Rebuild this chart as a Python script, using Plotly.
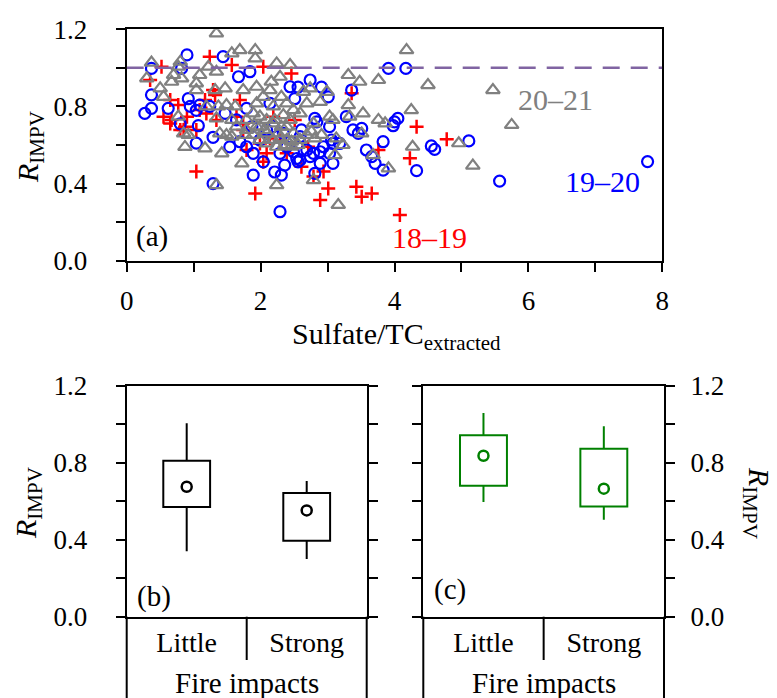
import plotly.graph_objects as go

# ---------------- Panel (a) data ----------------
x_1819 = [0.35, 0.52, 0.55, 0.65, 0.65, 0.67, 0.77, 0.80, 0.85, 1.04, 1.09, 1.17, 1.24, 1.29, 1.32, 1.57, 1.64,
          1.69, 1.74, 1.79, 1.92, 2.04, 2.04, 2.19, 2.29, 2.46, 2.51, 2.61, 2.79, 2.89, 2.94, 3.01, 2.71, 3.36,
          3.43, 3.51, 3.66, 3.76, 4.08, 4.23, 4.33, 4.78, 0.87, 0.90, 1.04, 1.19, 1.34, 1.74, 1.99, 2.14, 2.39, 2.09]
y_1819 = [0.937, 1.006, 0.747, 0.833, 0.712, 0.73, 0.807, 0.678, 0.678, 0.462, 0.781, 0.833, 1.058, 0.885, 0.859,
          1.015, 0.747, 0.833, 0.712, 0.574, 0.349, 1.006, 0.513, 0.747, 0.626, 0.971, 0.73, 0.487, 0.436, 0.315,
          0.462, 0.375, 0.591, 0.868, 0.384, 0.332, 0.349, 0.574, 0.237, 0.531, 0.695, 0.63, 0.695, 0.747, 0.678,
          0.764, 0.73, 0.678, 0.608, 0.634, 0.557, 0.557]

x_1920 = [0.27, 0.37, 0.37, 0.37, 0.62, 0.80, 0.82, 0.90, 0.92, 0.95,
          1.04, 1.07, 1.04, 1.29, 1.29, 1.44, 1.47, 1.54, 1.67, 1.69,
          1.79, 1.84, 1.87, 1.89, 2.04, 2.21, 2.31, 2.36, 2.29, 2.29,
          2.56, 2.51, 2.61, 2.54, 2.56, 2.74, 2.81, 2.84, 2.74, 2.89,
          2.81, 2.91, 3.03, 3.06, 3.03, 3.08, 3.01, 3.28, 3.36, 3.38,
          3.51, 3.46, 3.58, 3.66, 3.71, 3.83, 3.83, 3.91, 3.98, 4.05,
          4.00, 4.17, 4.33, 4.55, 4.60, 5.11, 5.57, 7.78,
          1.09, 1.24, 1.64, 1.79, 1.89, 1.99, 2.09, 2.19, 2.34, 2.39,
          2.49, 2.59, 2.69, 2.79, 2.59, 2.89, 2.94, 2.44, 2.14, 3.08, 3.18]
y_1920 = [0.764, 0.79, 0.997, 0.86, 0.79, 0.71, 0.997, 1.067, 0.84, 0.80,
          0.78, 0.70, 0.61, 0.64, 0.40, 1.058, 0.764, 0.59, 0.954, 0.617,
          0.79, 0.98, 0.695, 0.444, 0.513, 0.46, 0.444, 0.496, 0.254, 0.557,
          0.90, 0.84, 0.678, 0.53, 0.513, 0.937, 0.738, 0.72, 0.54, 0.505,
          0.453, 0.90, 0.695, 0.626, 0.557, 0.505, 0.85, 0.747, 0.885, 0.678,
          0.686, 0.66, 0.574, 0.54, 0.505, 0.47, 0.617, 0.997, 0.70, 0.738,
          0.72, 0.997, 0.467, 0.595, 0.577, 0.621, 0.413, 0.514,
          0.807, 0.80, 0.73, 0.591, 0.557, 0.626, 0.678, 0.695, 0.66, 0.591,
          0.565, 0.643, 0.574, 0.557, 0.522, 0.565, 0.591, 0.902, 0.816, 0.608, 0.608]

x_2021 = [0.37, 0.30, 0.50, 0.55, 0.67, 0.70, 0.77, 0.80, 0.82, 0.77,
          0.85, 0.87, 0.92, 1.04, 1.09, 1.04, 1.19, 1.17, 1.22, 1.34,
          1.34, 1.32, 1.37, 1.34, 1.39, 1.42, 1.34, 1.47, 1.49, 1.57,
          1.57, 1.69, 1.62, 1.74, 1.72, 1.79, 1.77, 1.92, 1.92, 1.94,
          1.94, 1.99, 2.04, 2.06, 2.16, 2.14, 2.19, 2.24, 2.21, 2.26,
          2.24, 2.29, 2.31, 2.34, 2.39, 2.44, 2.46, 2.49, 2.64, 2.69,
          2.74, 2.76, 2.79, 2.81, 2.89, 2.91, 2.99, 3.03, 3.08, 3.13,
          3.11, 3.16, 3.23, 3.31, 3.31, 3.33, 3.48, 3.51, 3.53, 3.68,
          3.76, 3.76, 3.86, 3.91, 4.18, 4.25, 4.27, 4.50, 5.47, 5.75,
          4.96, 5.17,
          1.79, 1.89, 1.99, 2.09, 2.19, 2.29, 2.39, 2.49, 2.59, 2.69,
          1.99, 2.09, 2.19, 2.31, 2.44, 1.89, 1.94, 2.09, 2.24, 2.36,
          2.46, 2.56, 2.79, 2.39, 2.59, 1.57, 1.64, 1.49]
y_2021 = [1.027, 0.946, 0.894, 0.85, 0.928, 0.963, 1.006, 1.032, 0.946, 0.747,
          0.66, 0.59, 0.652, 0.92, 0.963, 0.885, 0.80, 0.583, 1.006, 1.179,
          0.98, 0.885, 0.80, 0.738, 0.66, 0.557, 0.392, 0.894, 0.807, 1.075,
          0.643, 1.092, 0.80, 0.885, 0.505, 0.73, 0.652, 1.092, 1.049, 0.902,
          0.816, 0.747, 0.85, 0.678, 0.928, 0.885, 0.80, 1.023, 0.73, 0.66,
          0.392, 0.954, 0.85, 0.755, 0.695, 1.015, 0.617, 0.781, 0.876, 0.816,
          0.894, 0.669, 0.418, 0.634, 0.824, 0.652, 0.876, 0.747, 0.73, 0.634,
          0.548, 0.289, 0.60, 0.963, 0.807, 0.747, 0.928, 0.66, 0.764, 0.548,
          0.937, 0.73, 0.712, 0.479, 1.092, 0.781, 0.591, 0.911, 0.885, 0.704,
          0.609, 0.493,
          0.678, 0.652, 0.626, 0.66, 0.626, 0.634, 0.626, 0.66, 0.626, 0.652,
          0.695, 0.73, 0.712, 0.695, 0.73, 0.764, 0.695, 0.608, 0.591, 0.60,
          0.591, 0.60, 0.712, 0.816, 0.764, 0.73, 0.695, 0.652]

REF_LINE = 1.0

# ---------------- Panels (b) and (c) data ----------------
categories = ["Little", "Strong"]
b_lower = [0.34, 0.30]
b_q1 = [0.57, 0.395]
b_mean = [0.675, 0.552]
b_q3 = [0.81, 0.642]
b_upper = [1.005, 0.705]

c_lower = [0.596, 0.504]
c_q1 = [0.68, 0.573]
c_mean = [0.836, 0.665]
c_q3 = [0.942, 0.873]
c_upper = [1.058, 0.989]

FONT = "Liberation Serif"
W, H = 777, 698


def px(x):
    return x / W


def py(y):
    return 1 - y / H


fig = go.Figure()

# Panel (a) scatter
fig.add_trace(go.Scatter(x=x_1819, y=y_1819, mode="markers", name="18–19", xaxis="x", yaxis="y",
                         marker=dict(symbol="cross-thin-open", size=10, color="#FF0000",
                                     line=dict(color="#FF0000", width=2.5))))
fig.add_trace(go.Scatter(x=x_1920, y=y_1920, mode="markers", name="19–20", xaxis="x", yaxis="y",
                         marker=dict(symbol="circle-open", size=11, color="#0000FF",
                                     line=dict(color="#0000FF", width=2.2))))
fig.add_trace(go.Scatter(x=x_2021, y=y_2021, mode="markers", name="20–21", xaxis="x", yaxis="y",
                         marker=dict(symbol="triangle-up-open", size=12, color="#808080",
                                     line=dict(color="#808080", width=2.2))))


def add_box_panel(xa, ya, lower, q1, mean, q3, upper, color):
    wx, wy = [], []
    for i, c in enumerate(categories):
        wx += [c, c, None, c, c, None]
        wy += [lower[i], q1[i], None, q3[i], upper[i], None]
    fig.add_trace(go.Scatter(x=wx, y=wy, mode="lines", xaxis=xa, yaxis=ya,
                             line=dict(color=color, width=2), hoverinfo="skip"))
    fig.add_trace(go.Bar(x=categories, y=[q3[i] - q1[i] for i in range(len(categories))], base=q1,
                         width=0.39, xaxis=xa, yaxis=ya,
                         marker=dict(color="rgba(255,255,255,0)", line=dict(color=color, width=2))))
    fig.add_trace(go.Scatter(x=categories, y=mean, mode="markers", xaxis=xa, yaxis=ya,
                             marker=dict(symbol="circle-open", size=10, color=color,
                                         line=dict(color=color, width=2.5))))


add_box_panel("x2", "y2", b_lower, b_q1, b_mean, b_q3, b_upper, "#000000")
add_box_panel("x3", "y3", c_lower, c_q1, c_mean, c_q3, c_upper, "#008000")

tickfont = dict(family=FONT, size=27, color="black")


def y_axis(domain, anchor, side, mirror, standoff):
    return dict(domain=domain, anchor=anchor, side=side, mirror=mirror, automargin=False,
                range=[0, 1.2], tick0=0, dtick=0.4, tickformat=".1f", ticks="outside", ticklen=9,
                tickwidth=2, tickcolor="black", ticklabelstandoff=standoff,
                minor=dict(dtick=0.2, tick0=0, ticks="outside", ticklen=9, tickwidth=2, tickcolor="black"),
                showline=True, linewidth=2, linecolor="black", showgrid=False, zeroline=False,
                tickfont=tickfont)


def x_cat_axis(domain, anchor):
    return dict(domain=domain, anchor=anchor, automargin=False, type="category", range=[-0.5, 1.5],
                ticks="", showline=True, linewidth=2, linecolor="black", mirror=True, showgrid=False,
                zeroline=False, ticklabelstandoff=0,
                tickfont=dict(family=FONT, size=28, color="black"))


fig.update_layout(
    width=W, height=H, margin=dict(l=0, r=0, t=0, b=0, autoexpand=False),
    paper_bgcolor="white", plot_bgcolor="white", showlegend=False,
    font=dict(family=FONT, color="black"),
    barmode="overlay",
    xaxis=dict(domain=[px(126.7), px(662.3)], anchor="y", automargin=False, range=[0, 8], tick0=0, dtick=2,
               ticks="outside", ticklen=9, tickwidth=2, tickcolor="black", ticklabelstandoff=6,
               minor=dict(dtick=1, ticks="outside", ticklen=9, tickwidth=2, tickcolor="black"),
               showline=True, linewidth=2, linecolor="black", mirror=True, showgrid=False,
               zeroline=False, tickfont=tickfont),
    yaxis=y_axis([py(260.7), py(29.3)], "x", "left", True, 23),
    xaxis2=x_cat_axis([px(126.7), px(366.7)], "y2"),
    yaxis2=y_axis([py(616.7), py(385.7)], "x2", "left", "ticks", 23),
    xaxis3=x_cat_axis([px(423.3), px(664)], "y3"),
    yaxis3=y_axis([py(616.7), py(385.7)], "x3", "right", "ticks", 10),
)

# reference dashed line in (a)
fig.add_shape(type="line", xref="x", yref="y", x0=0, x1=8, y0=REF_LINE, y1=REF_LINE,
              line=dict(color="#8064A2", width=2.5, dash="17px,11px"))

# category separators below (b) and (c)
for xd in ["x2 domain", "x3 domain"]:
    for xv, ybot in [(0, 0), (1, 0), (0.5, py(660))]:
        fig.add_shape(type="line", xref=xd, yref="paper", x0=xv, x1=xv, y0=py(616.7), y1=ybot,
                      line=dict(color="black", width=2))

ann = []


def add_text(x, y, text, size, color="black", angle=0):
    ann.append(dict(x=px(x), y=py(y), xref="paper", yref="paper", text=text, showarrow=False,
                    font=dict(family=FONT, size=size, color=color), textangle=angle,
                    xanchor="center", yanchor="middle"))


add_text(152, 236, "(a)", 29)
add_text(154, 596, "(b)", 29)
add_text(450, 589, "(c)", 29)
add_text(429, 237, "18–19", 30, "#FF0000")
add_text(602, 182, "19–20", 30, "#0000FF")
add_text(555, 100, "20–21", 30, "#808080")
add_text(396, 336, "Sulfate/TC<sub>extracted</sub>", 30)
add_text(30, 147, "<i>R</i><sub>IMPV</sub>", 30, angle=-90)
add_text(28, 503, "<i>R</i><sub>IMPV</sub>", 30, angle=-90)
add_text(757, 503, "<i>R</i><sub>IMPV</sub>", 30, angle=90)
add_text(247, 683, "Fire impacts", 29)
add_text(543.5, 683, "Fire impacts", 29)
fig.update_layout(annotations=ann)

fig.write_html("out.html", config={"displayModeBar": False},
               post_script="document.body.style.margin='0px';document.body.style.padding='0px';"
                           "document.body.style.overflow='hidden';")
